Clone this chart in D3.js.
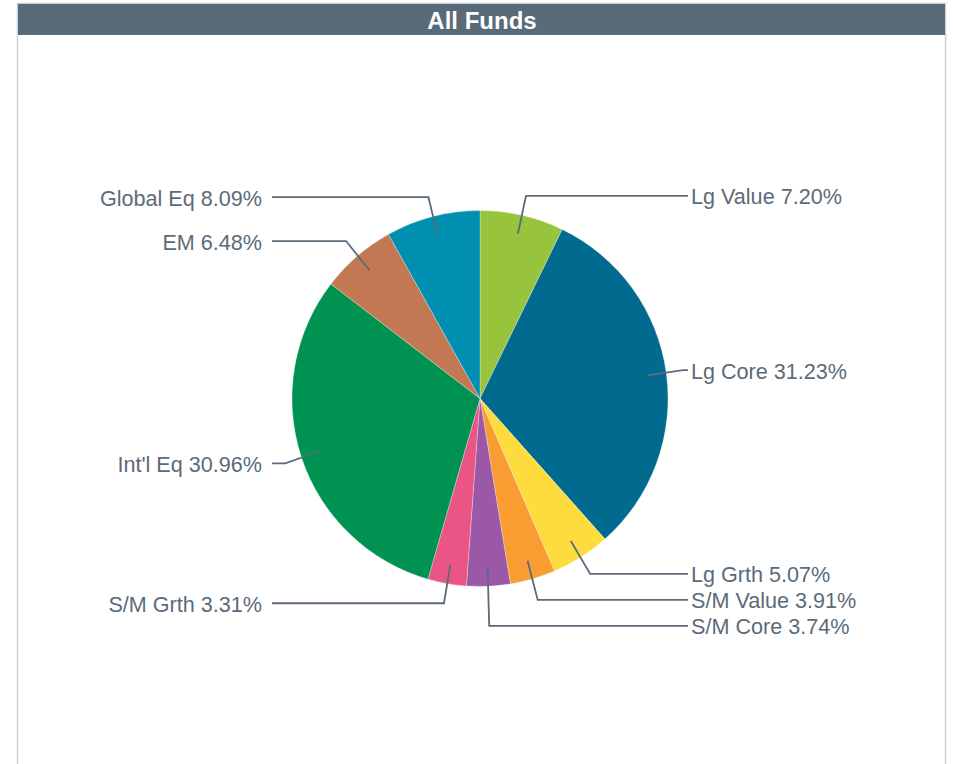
<!DOCTYPE html>
<html>
<head>
<meta charset="utf-8">
<script src="https://cdn.jsdelivr.net/npm/d3@7"></script>
<style>
  html, body { margin: 0; padding: 0; background: #ffffff; }
  svg { display: block; }
</style>
</head>
<body>
<svg id="chart" width="953" height="764"></svg>
<script>
const title = "All Funds";
const categories = ["Lg Value", "Lg Core", "Lg Grth", "S/M Value", "S/M Core", "S/M Grth", "Int'l Eq", "EM", "Global Eq"];
const values = [7.20, 31.23, 5.07, 3.91, 3.74, 3.31, 30.96, 6.48, 8.09];
const colors = ["#97c33d", "#006a8f", "#fedc3d", "#f99d33", "#9a58a6", "#ea5585", "#009250", "#c27852", "#008fb0"];

const svg = d3.select("#chart");

// panel
svg.append("rect")
  .attr("x", 17.5).attr("y", 3.5).attr("width", 928).attr("height", 780)
  .attr("fill", "#ffffff").attr("stroke", "#c9d2dc").attr("stroke-width", 1.5);
svg.append("rect")
  .attr("x", 18).attr("y", 4).attr("width", 927).attr("height", 31)
  .attr("fill", "#596a79");
svg.append("text")
  .attr("x", 482).attr("y", 20)
  .attr("text-anchor", "middle").attr("dominant-baseline", "central")
  .attr("font-family", "Liberation Sans, Arial, sans-serif")
  .attr("font-weight", "bold").attr("font-size", 24)
  .attr("fill", "#ffffff")
  .text(title);

const cx = 480, cy = 398.5, r = 188;
const data = categories.map((c, i) => ({ name: c, value: values[i], color: colors[i] }));

const pie = d3.pie().sort(null).value(d => d.value);
const arcs = pie(data);
const arc = d3.arc().innerRadius(0).outerRadius(r);

const g = svg.append("g").attr("transform", `translate(${cx},${cy})`);
g.selectAll("path.slice").data(arcs).enter().append("path")
  .attr("class", "slice")
  .attr("d", arc)
  .attr("fill", d => d.data.color)
  .attr("stroke", "#ffffff").attr("stroke-width", 0.3);

// label layout
const Rlab = 208, Relb = 205, Rin = 169, gap = 26;
const labels = arcs.map(a => {
  const m = (a.startAngle + a.endAngle) / 2;
  const right = Math.sin(m) >= 0;
  return {
    a, m, right,
    y: -Rlab * Math.cos(m),
    sx: Rin * Math.sin(m), sy: -Rin * Math.cos(m),
    ex: Relb * Math.sin(m)
  };
});
[true, false].forEach(side => {
  const list = labels.filter(l => l.right === side).sort((p, q) => p.y - q.y);
  for (let i = 1; i < list.length; i++) {
    if (list[i].y - list[i - 1].y < gap) list[i].y = list[i - 1].y + gap;
  }
});

labels.forEach(l => {
  const endX = l.right ? Rlab : -Rlab;
  g.append("polyline")
    .attr("points", `${l.sx},${l.sy} ${l.ex},${l.y} ${endX},${l.y}`)
    .attr("fill", "none").attr("stroke", "#5b6b7a").attr("stroke-width", 1.8);
  g.append("text")
    .attr("x", l.right ? Rlab + 3 : -Rlab - 10)
    .attr("y", l.y + 1)
    .attr("dy", "0.35em")
    .attr("text-anchor", l.right ? "start" : "end")
    .attr("font-family", "Liberation Sans, Arial, sans-serif")
    .attr("font-size", 21.6)
    .attr("fill", "#5b6b7a")
    .text(`${l.a.data.name} ${l.a.data.value.toFixed(2)}%`);
});
</script>
</body>
</html>
